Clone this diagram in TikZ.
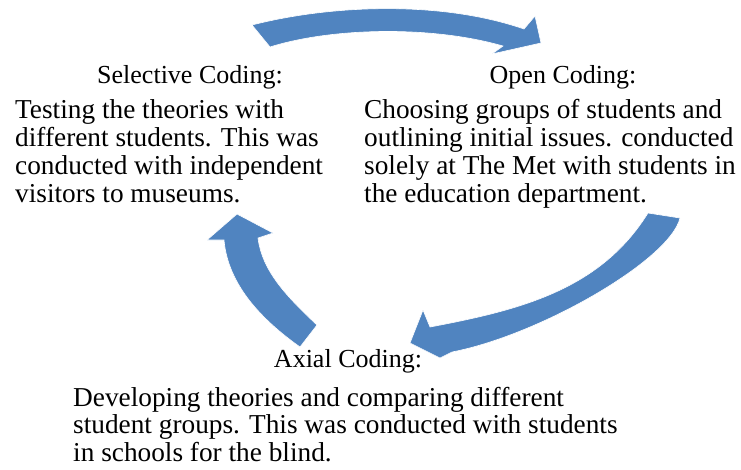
\documentclass[tikz,border=0pt]{standalone}
\usepackage{fontspec}
\setmainfont{Liberation Serif}
\definecolor{cycleblue}{RGB}{80,132,192}
\begin{document}
\begin{tikzpicture}[x=1pt,y=-1pt,
    heading/.style={anchor=base,inner sep=0pt,font=\fontsize{26}{27}\selectfont},
    body/.style={anchor=north west,inner sep=0pt,align=left,font=\fontsize{27.3}{28}\selectfont},
    cyclearrow/.style={fill=cycleblue,draw=white,line width=0.6pt}]
    \useasboundingbox (0,0) rectangle (741,469);
    % the three phases
    \node[heading] (selhead) at (190,83) {Selective Coding:};
    \node[body] (seltext) at (15,99) {Testing the theories with\\different students. This was\\conducted with independent\\visitors to museums.};
    \node[heading] (openhead) at (563,83) {Open Coding:};
    \node[body] (opentext) at (364,99) {Choosing groups of students and\\outlining initial issues. conducted\\solely at The Met with students in\\the education department.};
    \node[heading] (axhead) at (348,367) {Axial Coding:};
    \node[body,font=\fontsize{27.3}{27.5}\selectfont] (axtext) at (73,387) {Developing theories and comparing different\\student groups. This was conducted with students\\in schools for the blind.};
    % curved arrows of the cycle
    \fill[cyclearrow] (252,25) .. controls (330,5) and (440,0) .. (524,29) -- (535,16)
        -- (541,43) -- (492,54) -- (503,46) .. controls (430,25) and (330,28) .. (270,47) -- cycle;
    \fill[cyclearrow] (648,213) .. controls (600,290) and (520,310) .. (430,327) -- (423,310)
        -- (410,343) -- (440,358) -- (452,352) .. controls (540,335) and (670,260) .. (680,218) -- cycle;
    \fill[cyclearrow] (317,325) .. controls (285,295) and (262,270) .. (258,238) -- (273,233)
        -- (237,214) -- (207,240) -- (224,240) .. controls (228,285) and (262,320) .. (300,347) -- cycle;
\end{tikzpicture}
\end{document}
